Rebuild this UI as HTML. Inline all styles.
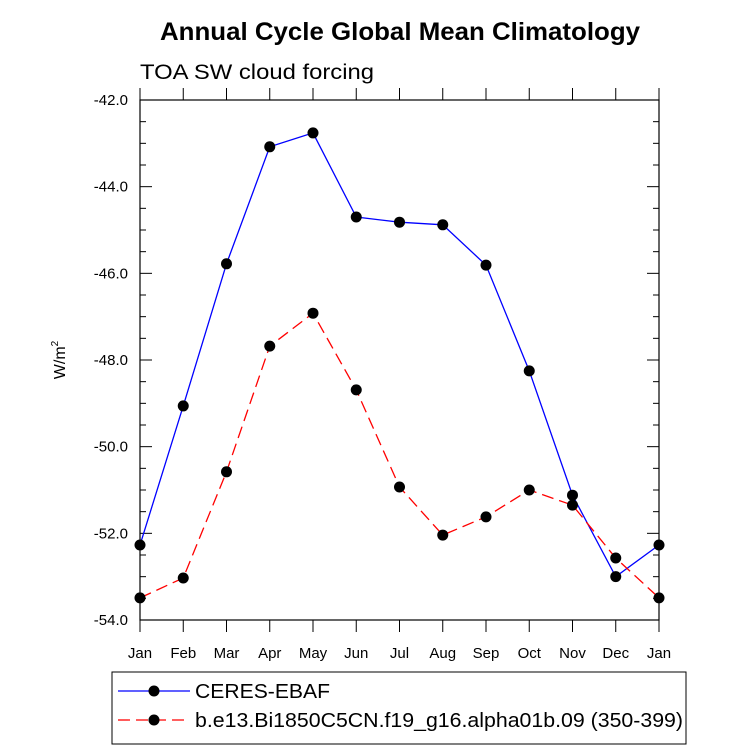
<!DOCTYPE html>
<html><head><meta charset="utf-8"><style>
body{margin:0;background:#fff;}
svg text{font-family:"Liberation Sans",Arial,sans-serif;fill:#000;}
</style></head><body>
<svg id="chart" width="733" height="748">
<text x="160" y="40" font-size="25" font-weight="bold" textLength="480" lengthAdjust="spacingAndGlyphs">Annual Cycle Global Mean Climatology</text>
<text x="140" y="79" font-size="21" textLength="234" lengthAdjust="spacingAndGlyphs">TOA SW cloud forcing</text>
<g id="axes"></g>
<g id="series"></g>
<text transform="translate(65,360) rotate(-90)" text-anchor="middle" font-size="16">W/m<tspan font-size="10" dy="-7">2</tspan></text>
<g>
<rect x="112" y="672" width="574" height="72" fill="#fff" stroke="#000" stroke-width="1"/>
<g>
<line x1="118" y1="691" x2="190" y2="691" stroke="#0000ff" stroke-width="1.3"/>
<circle cx="154" cy="691" r="5.5" fill="#000"/>
<text x="195" y="698" font-size="20" textLength="135" lengthAdjust="spacingAndGlyphs">CERES-EBAF</text></g>
<g>
<line x1="118" y1="720" x2="190" y2="720" stroke="#ff0000" stroke-width="1.3" stroke-dasharray="12,6"/>
<circle cx="154" cy="720" r="5.5" fill="#000"/>
<text x="195" y="727" font-size="20" textLength="488" lengthAdjust="spacingAndGlyphs">b.e13.Bi1850C5CN.f19_g16.alpha01b.09 (350-399)</text></g>
</g>
</svg>
<script>
const months=["Jan","Feb","Mar","Apr","May","Jun","Jul","Aug","Sep","Oct","Nov","Dec","Jan"];
const ceres=[-52.27,-49.06,-45.78,-43.08,-42.76,-44.70,-44.82,-44.88,-45.81,-48.25,-51.12,-53.0,-52.27];
const model=[-53.49,-53.03,-50.58,-47.68,-46.92,-48.69,-50.93,-52.04,-51.62,-51.0,-51.35,-52.57,-53.49];
const yTicks=[-42,-44,-46,-48,-50,-52,-54];
const yTickLabels=["-42.0","-44.0","-46.0","-48.0","-50.0","-52.0","-54.0"];
const NS="http://www.w3.org/2000/svg";
const X0=140,X1=659,Y0=100,Y1=620,YMAX=-42,YMIN=-54;
function xs(i){return X0+(X1-X0)*i/(months.length-1);}
function ys(v){return Y0+(YMAX-v)/(YMAX-YMIN)*(Y1-Y0);}
function mk(tag,attrs,parent){const e=document.createElementNS(NS,tag);for(const k in attrs)e.setAttribute(k,attrs[k]);parent.appendChild(e);return e;}
const ax=document.getElementById('axes');
const frame=mk('rect',{x:X0,y:Y0,width:X1-X0,height:Y1-Y0,fill:'none',stroke:'#000','stroke-width':1.2},ax);


for(let v=YMIN;v<=YMAX+1e-9;v+=0.5){
  const y=ys(v);const major=Math.abs(v/2-Math.round(v/2))<1e-9;const L=major?12:6;
  mk('line',{x1:X0,y1:y,x2:X0+L,y2:y,stroke:'#000'},ax);
  mk('line',{x1:X1,y1:y,x2:X1-L,y2:y,stroke:'#000'},ax);
}
yTicks.forEach((v,i)=>{
  const t=mk('text',{x:X0-12,y:ys(v)+5,'text-anchor':'end','font-size':15},ax);
  t.textContent=yTickLabels[i];
  
  
});
months.forEach((m,i)=>{
  const x=xs(i);
  mk('line',{x1:x,y1:Y1,x2:x,y2:Y1+12,stroke:'#000'},ax);
  mk('line',{x1:x,y1:Y0,x2:x,y2:Y0-12,stroke:'#000'},ax);
  const t=mk('text',{x:x,y:658,'text-anchor':'middle','font-size':15},ax);
  t.textContent=m;
  
  
});
const sg=document.getElementById('series');
function drawSeries(vals,color,dash,name){
  const g=mk('g',{},sg);
  
  
  const pts=vals.map((v,i)=>xs(i)+','+ys(v)).join(' ');
  const attrs={points:pts,fill:'none',stroke:color,'stroke-width':1.3};
  if(dash)attrs['stroke-dasharray']=dash;
  mk('polyline',attrs,g);
  vals.forEach((v,i)=>{
    const c=mk('circle',{cx:xs(i),cy:ys(v),r:5.5,fill:'#000'},g);
    
    
  });
}
drawSeries(ceres,'#0000ff',null,'ceres-series');
drawSeries(model,'#ff0000','12,6','model-series');
</script>
</body></html>
